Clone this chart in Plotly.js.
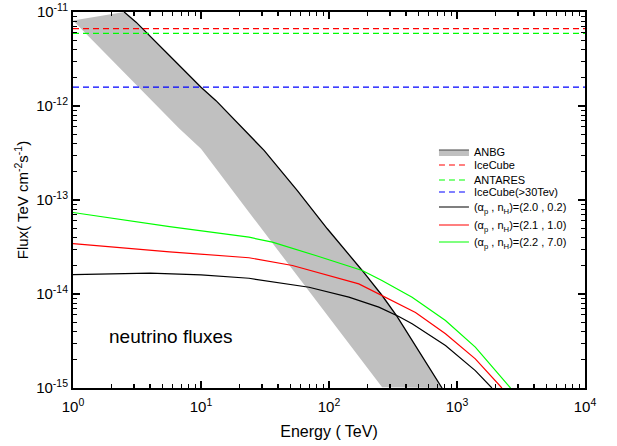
<!DOCTYPE html>
<html>
<head>
<meta charset="utf-8">
<script src="https://cdn.plot.ly/plotly-3.0.1.min.js"></script>
<style>html,body{margin:0;padding:0;background:#fff;}#chart{width:617px;height:446px;}</style>
</head>
<body>
<div id="chart"></div>
<script>
// ---- data ----
// ANBG band: upper boundary (grey, then black line), lower boundary
var bandUpperE = [1, 1.94, 2.51];
var bandUpperF = [8.13e-12, 9.4e-12, 1.0e-11];
var anbgLineE = [2.51, 3.11, 5.66, 10, 13.1, 31.1, 56.6, 97.0, 181.6, 260, 340, 764];
var anbgLineF = [1.0e-11, 7.80e-12, 3.44e-12, 1.585e-12, 1.14e-12, 3.37e-13, 1.26e-13, 4.94e-14, 1.78e-14, 9.64e-15, 5.77e-15, 1.0e-15];
var bandLowerE = [1, 6.76, 10, 23.7, 30.2, 260];
var bandLowerF = [8.13e-12, 5.75e-13, 3.51e-13, 7.41e-14, 4.74e-14, 1.02e-15];

// horizontal limits
var limitE = [1, 10000];
var iceCubeF = [6.67e-12, 6.67e-12];
var antaresF = [5.91e-12, 5.91e-12];
var iceCube30F = [1.585e-12, 1.585e-12];

// model curves
var blackE = [1, 4, 10, 23.7, 69.8, 143, 245, 351, 446, 813, 1390, 1875];
var blackF = [1.61e-14, 1.67e-14, 1.60e-14, 1.47e-14, 1.18e-14, 9.25e-15, 7.24e-15, 5.77e-15, 4.82e-15, 2.83e-15, 1.53e-15, 1.0e-15];
var redE = [1, 5.68, 23.7, 51.8, 171, 260, 474, 813, 1390, 2244];
var redF = [3.44e-14, 2.81e-14, 2.43e-14, 2.01e-14, 1.28e-14, 9.64e-15, 6.35e-15, 3.77e-15, 2.04e-15, 1.0e-15];
var greenE = [1, 5.68, 23.7, 36.1, 78.7, 182, 259, 446, 813, 1390, 2620];
var greenF = [7.36e-14, 5.22e-14, 4.02e-14, 3.56e-14, 2.57e-14, 1.78e-14, 1.39e-14, 9.25e-15, 5.22e-15, 2.72e-15, 1.0e-15];

// legend names
var legendNames = ['ANBG', 'IceCube', 'ANTARES', 'IceCube(>30Tev)',
  '(α<sub>p</sub> , n<sub>H</sub>)=(2.0 , 0.2)',
  '(α<sub>p</sub> , n<sub>H</sub>)=(2.1 , 1.0)',
  '(α<sub>p</sub> , n<sub>H</sub>)=(2.2 , 7.0)'];

// tick labels
var xTickVals = [1, 10, 100, 1000, 10000];
var xTickText = ['10<sup>0</sup>', '10<sup>1</sup>', '10<sup>2</sup>', '10<sup>3</sup>', '10<sup>4</sup>'];
var yTickVals = [1e-15, 1e-14, 1e-13, 1e-12, 1e-11];
var yTickText = ['10<sup>-15</sup>', '10<sup>-14</sup>', '10<sup>-13</sup>', '10<sup>-12</sup>', '10<sup>-11</sup>'];

// ---- build ----
function minorTicks(lo, hi) {
  var v = [];
  for (var p = lo; p < hi; p++) {
    for (var k = 2; k <= 9; k++) v.push(k * Math.pow(10, p));
  }
  return v;
}

var polyE = bandUpperE.concat(anbgLineE.slice(1)).concat(bandLowerE.slice().reverse());
var polyF = bandUpperF.concat(anbgLineF.slice(1)).concat(bandLowerF.slice().reverse());

var FONT = 'Arial, "Liberation Sans", sans-serif';
var legIds = ['legend', 'legend2', 'legend3', 'legend4', 'legend5', 'legend6', 'legend7'];
var traces = [
  {x: polyE, y: polyF, mode: 'lines', fill: 'toself', fillcolor: '#c0c0c0',
   line: {width: 0, color: '#c0c0c0'}, showlegend: false, hoverinfo: 'skip'},
  {x: anbgLineE, y: anbgLineF, mode: 'lines', line: {color: '#000', width: 1.3}, showlegend: false},
  // legend entry for the band (drawn off-range so only the legend swatch shows)
  {x: [1e6, 2e6, 2e6], y: [1e-20, 1e-20, 2e-20], mode: 'lines', fill: 'toself', fillcolor: '#c0c0c0',
   line: {color: '#444', width: 1}, name: legendNames[0], legend: legIds[0]},
  {x: limitE, y: iceCubeF, mode: 'lines', line: {color: '#ff0000', width: 1.2, dash: '6px,4px'}, name: legendNames[1], legend: legIds[1]},
  {x: limitE, y: antaresF, mode: 'lines', line: {color: '#00ff00', width: 1.2, dash: '6px,4px'}, name: legendNames[2], legend: legIds[2]},
  {x: limitE, y: iceCube30F, mode: 'lines', line: {color: '#0000ff', width: 1.2, dash: '6px,4px'}, name: legendNames[3], legend: legIds[3]},
  {x: blackE, y: blackF, mode: 'lines', line: {color: '#000', width: 1.2}, name: legendNames[4], legend: legIds[4]},
  {x: redE, y: redF, mode: 'lines', line: {color: '#ff0000', width: 1.2}, name: legendNames[5], legend: legIds[5]},
  {x: greenE, y: greenF, mode: 'lines', line: {color: '#00ff00', width: 1.2}, name: legendNames[6], legend: legIds[6]}
];

var PLOT_TOP = 12, PLOT_H = 376;
var legendCentersPx = [152, 165, 180, 192, 207, 225, 242];

var layout = {
  width: 617, height: 446,
  margin: {l: 73, r: 32, t: PLOT_TOP, b: 58},
  paper_bgcolor: '#fff', plot_bgcolor: '#fff',
  font: {family: FONT, color: '#000', size: 15},
  showlegend: true,
  xaxis: {type: 'log', range: [0, 4], tickmode: 'array', tickvals: xTickVals, ticktext: xTickText,
          ticks: 'inside', ticklen: 7, tickwidth: 1.5, tickcolor: '#000', ticklabelstandoff: 4,
          showline: true, linewidth: 2, linecolor: '#000', mirror: 'ticks', showgrid: false, zeroline: false,
          tickfont: {family: FONT, size: 15},
          minor: {tickmode: 'array', tickvals: minorTicks(0, 4), ticks: 'inside', ticklen: 4, tickwidth: 1.2, tickcolor: '#000', showgrid: false},
          title: {text: 'Energy ( TeV)', font: {family: FONT, size: 16}, standoff: 12}},
  yaxis: {type: 'log', range: [-15, -11], tickmode: 'array', tickvals: yTickVals, ticktext: yTickText,
          ticks: 'inside', ticklen: 7, tickwidth: 1.5, tickcolor: '#000',
          showline: true, linewidth: 2, linecolor: '#000', mirror: 'ticks', showgrid: false, zeroline: false,
          tickfont: {family: FONT, size: 15},
          minor: {tickmode: 'array', tickvals: minorTicks(-15, -11), ticks: 'inside', ticklen: 4, tickwidth: 1.2, tickcolor: '#000', showgrid: false},
          title: {text: 'Flux( TeV cm<sup>-2</sup>s<sup>-1</sup>)', font: {family: FONT, size: 15}, standoff: 4}},
  annotations: [{x: Math.log10(5.83), y: -14.447, xref: 'x', yref: 'y', text: 'neutrino fluxes',
                 showarrow: false, font: {family: FONT, size: 19, color: '#000'}}]
};

legIds.forEach(function (id, i) {
  layout[id] = {x: 0.705, y: 1 - (legendCentersPx[i] - PLOT_TOP) / PLOT_H, xanchor: 'left', yanchor: 'middle',
                bgcolor: 'rgba(0,0,0,0)', borderwidth: 0,
                font: {family: FONT, size: 11, color: '#000'}, itemwidth: 30};
});

Plotly.newPlot('chart', traces, layout, {displayModeBar: false, staticPlot: true});
</script>
</body>
</html>
